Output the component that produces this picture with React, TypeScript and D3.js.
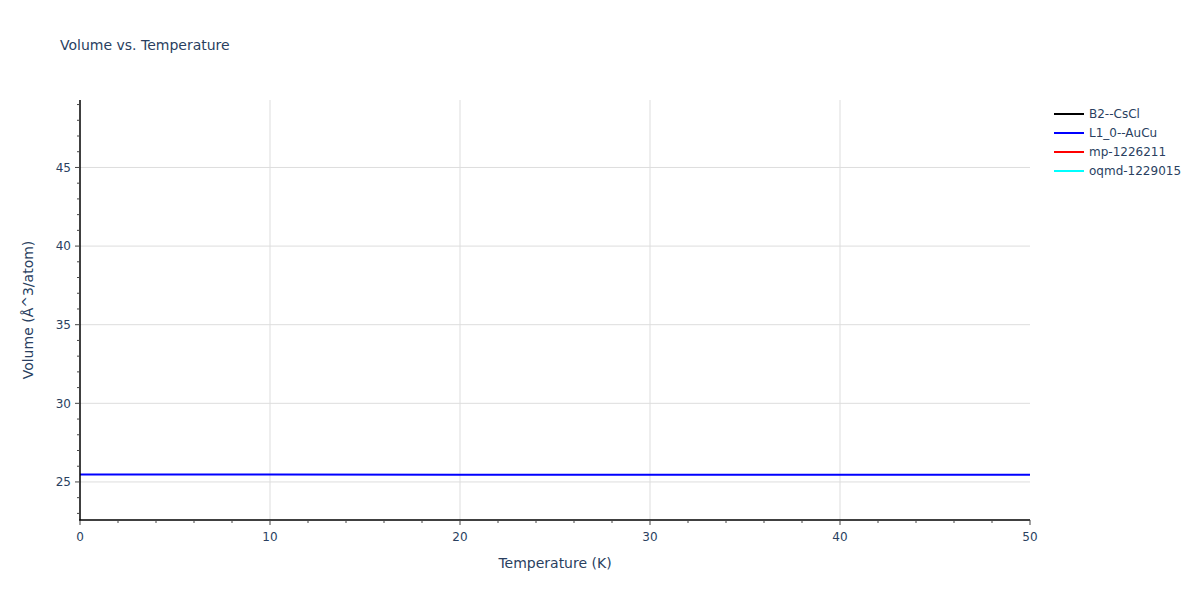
import React from "react";
import * as d3 from "d3";

const W = 1200;
const H = 600;
const margin = { left: 80, right: 170, top: 100, bottom: 80 };

const seriesNames = ["B2--CsCl", "L1_0--AuCu", "mp-1226211", "oqmd-1229015"];
const seriesColors = ["#000000", "#0000ff", "#ff0000", "#00ffff"];

const temperatures = [0, 10, 20, 30, 40, 50];
const volB2: number[] = [];
const volL10 = [25.47, 25.468, 25.465, 25.461, 25.457, 25.452];
const volMp: number[] = [];
const volOqmd: number[] = [];
const seriesValues = [volB2, volL10, volMp, volOqmd];

const xTicks = [0, 10, 20, 30, 40, 50];
const yTicks = [25, 30, 35, 40, 45];
const xDomain = [0, 50];
const yDomain = [22.58, 49.29];

export default function App() {
  const x = d3.scaleLinear().domain(xDomain).range([margin.left, W - margin.right]);
  const y = d3.scaleLinear().domain(yDomain).range([H - margin.bottom, margin.top]);
  const font = "'DejaVu Sans', verdana, arial, sans-serif";
  const textColor = "#2a3f5f";
  const xMinor = d3.range(0, 50.001, 2).filter((v) => v % 10 !== 0);
  const yMinor = d3.range(23, 49.5, 1).filter((v) => v % 5 !== 0);
  const line = d3
    .line<number>()
    .x((_, i) => x(temperatures[i]))
    .y((d) => y(d));

  const x0 = x(0);
  const x1 = x(50);
  const yb = y(yDomain[0]);
  const yt = y(yDomain[1]);

  return (
    <svg width={W} height={H} style={{ display: "block", position: "absolute", left: 0, top: 0, background: "#fff" }}>
      <rect x={0} y={0} width={W} height={H} fill="#fff" />
      <text x={60} y={50} fontFamily={font} fontSize={14} fill={textColor}>
        Volume vs. Temperature
      </text>
      {/* grid */}
      {xTicks.slice(1, -1).map((t) => (
        <line key={"gx" + t} x1={x(t)} x2={x(t)} y1={yt} y2={yb} stroke="#dddddd" strokeWidth={1} />
      ))}
      {yTicks.map((t) => (
        <line key={"gy" + t} x1={x0} x2={x1} y1={y(t)} y2={y(t)} stroke="#dddddd" strokeWidth={1} />
      ))}
      {/* series */}
      {seriesValues.map((vals, i) =>
        vals.length ? (
          <path key={"s" + i} d={line(vals) || ""} fill="none" stroke={seriesColors[i]} strokeWidth={2} />
        ) : null
      )}
      {/* axes */}
      <line x1={x0} x2={x0} y1={yt} y2={yb + 1} stroke="#000" strokeWidth={1.5} />
      <line x1={x0 - 0.75} x2={x1} y1={yb} y2={yb} stroke="#000" strokeWidth={1.5} />
      {xTicks.map((t) => (
        <g key={"xt" + t}>
          <line x1={x(t)} x2={x(t)} y1={yb} y2={yb + 5} stroke="#444" strokeWidth={1} />
          <text x={x(t)} y={yb + 21} textAnchor="middle" fontFamily={font} fontSize={12} fill={textColor}>
            {t}
          </text>
        </g>
      ))}
      {xMinor.map((t) => (
        <line key={"xm" + t} x1={x(t)} x2={x(t)} y1={yb} y2={yb + 3} stroke="#444" strokeWidth={1} />
      ))}
      {yTicks.map((t) => (
        <g key={"yt" + t}>
          <line x1={x0 - 5} x2={x0} y1={y(t)} y2={y(t)} stroke="#444" strokeWidth={1} />
          <text x={x0 - 9} y={y(t)} dy="0.35em" textAnchor="end" fontFamily={font} fontSize={12} fill={textColor}>
            {t}
          </text>
        </g>
      ))}
      {yMinor.map((t) => (
        <line key={"ym" + t} x1={x0 - 3} x2={x0} y1={y(t)} y2={y(t)} stroke="#444" strokeWidth={1} />
      ))}
      <text x={(x0 + x1) / 2} y={568} textAnchor="middle" fontFamily={font} fontSize={14} fill={textColor}>
        Temperature (K)
      </text>
      <text
        transform={`translate(33, ${(yt + yb) / 2}) rotate(-90)`}
        textAnchor="middle"
        fontFamily={font}
        fontSize={14}
        fill={textColor}
      >
        Volume (Å^3/atom)
      </text>
      {/* legend */}
      {seriesNames.map((n, i) => (
        <g key={"lg" + i} transform={`translate(1054, ${114 + i * 19})`}>
          <line x1={0} x2={30} y1={0} y2={0} stroke={seriesColors[i]} strokeWidth={2} />
          <text x={35} y={0} dy="0.35em" fontFamily={font} fontSize={12} fill={textColor}>
            {n}
          </text>
        </g>
      ))}
    </svg>
  );
}
